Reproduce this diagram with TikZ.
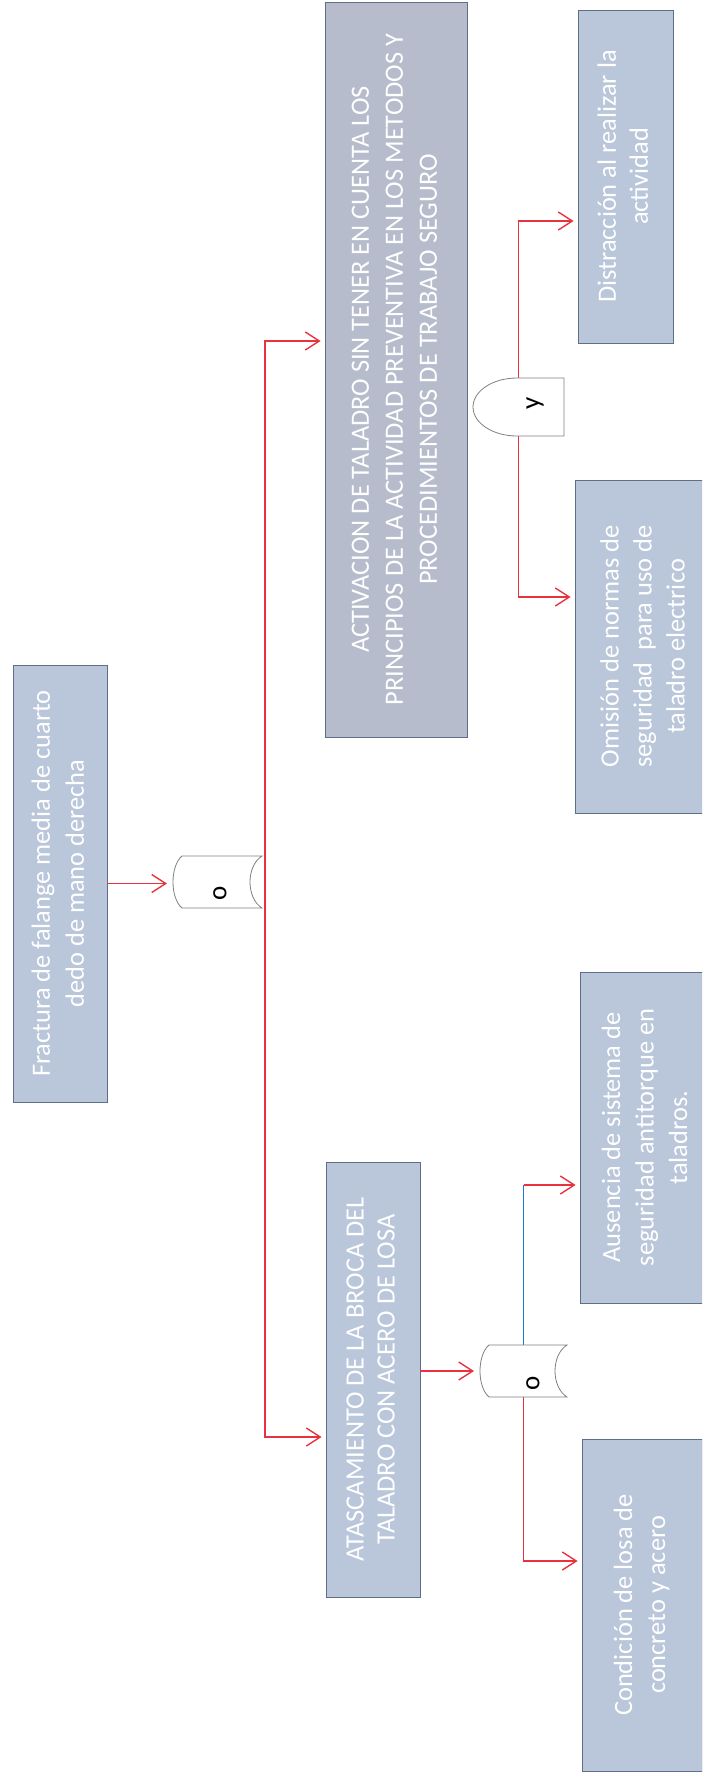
\documentclass[tikz,border=0pt]{standalone}
\usepackage{fontspec}
\setmainfont{Carlito}
\usepackage{graphicx}
\usetikzlibrary{arrows.meta,calc}
\definecolor{boxfill}{HTML}{BAC6DA}
\definecolor{boxfillb}{HTML}{B6BCCC}
\definecolor{boxline}{HTML}{5F6F88}
\definecolor{arrred}{HTML}{E8333F}
\definecolor{lineblue}{HTML}{2278D2}
\definecolor{gateline}{HTML}{808080}
\tikzset{
  box/.style={draw=boxline, line width=0.8pt, fill=boxfill, inner sep=0pt, text=white},
  conn/.style={draw=arrred, line width=1.4pt},
  arr/.style={conn, shorten >=4pt, -{Straight Barb[length=14pt,width=18pt,line width=1.4pt]}},
  gateshape/.style={draw=gateline, fill=white, line width=0.8pt},
  gatearea/.style={inner sep=0pt, outer sep=0pt},
  gatelabel/.style={rotate=90, inner sep=0pt, font=\fontsize{27}{27}\selectfont},
}
\newcommand{\rtext}[2][33]{\rotatebox{90}{\fontsize{26.4}{#1}\selectfont\begin{tabular}{@{}c@{}}#2\end{tabular}}}
\begin{document}
\begin{tikzpicture}[x=1pt,y=-1pt]
\useasboundingbox (0,0) rectangle (702,1774);
\clip (0,0) rectangle (702,1774);
\fill[white] (0,0) rectangle (702,1774);

% boxes
\node[box, minimum width=94pt, minimum height=437pt] (top) at (60,883.5)
  {\rtext[34]{Fractura de falange media de cuarto\\dedo de mano derecha}};
\node[box, fill=boxfillb, minimum width=142pt, minimum height=735pt] (act) at (396,369.5)
  {\rtext[34]{ACTIVACION DE TALADRO SIN TENER EN CUENTA LOS\\PRINCIPIOS DE LA ACTIVIDAD PREVENTIVA EN LOS METODOS Y\\PROCEDIMIENTOS DE TRABAJO SEGURO}};
\node[box, minimum width=94pt, minimum height=435pt] (atas) at (373,1379.5)
  {\rtext[31]{ATASCAMIENTO DE LA BROCA DEL\\TALADRO CON ACERO DE LOSA}};
\node[box, minimum width=95pt, minimum height=333pt] (dist) at (625.5,176.5)
  {\rtext[32]{Distracción al realizar la\\actividad}};
\node[box, minimum width=140pt, minimum height=333pt] (omis) at (645,646.5)
  {\rtext[33]{Omisión de normas de\\seguridad\ \ para uso de\\taladro electrico}};
\node[box, minimum width=134pt, minimum height=331pt] (aus) at (647,1137.5)
  {\rtext[33.5]{Ausencia de sistema de\\seguridad antitorque en\\taladros.}};
\node[box, minimum width=120pt, minimum height=332pt] (cond) at (642,1605)
  {\rtext[33]{Condición de losa de\\concreto y acero}};

% gate areas
\node[gatearea, minimum width=89pt, minimum height=52pt] (g1) at (217.5,882) {};
\node[gatearea, minimum width=87pt, minimum height=52pt] (g2) at (523.5,1371) {};
\node[gatearea, minimum width=91pt, minimum height=58pt] (gy) at (518.5,407) {};

% connectors
\draw[arr, shorten >=6pt] (top.east) -- (top.east -| g1.west);
\coordinate (bus) at ($(g1.east)+(3,0)$);
\draw[arr] (bus) |- ([yshift=28.5pt]act.west);
\draw[arr] (bus) |- ([yshift=-57.5pt]atas.west);
\draw[arr, shorten >=6pt] (atas.east |- g2.west) -- (g2.west);
\coordinate (ausin) at ([yshift=-47.5pt]aus.west);
\draw[lineblue, line width=1.4pt] (g2.north) -- (g2.north |- ausin);
\draw[arr] (g2.north |- ausin) -- (ausin);
\draw[arr] (g2.south) |- ([yshift=44pt]cond.west);
\draw[arr] (gy.center) |- ([yshift=-44.5pt]dist.west);
\draw[arr] (gy.center) |- ([yshift=49.5pt]omis.west);

% gate shapes
\draw[gateshape] (182,856) -- (262,856) .. controls (246,866) and (246,898) .. (262,908)
  -- (182,908) .. controls (170,898) and (170,866) .. cycle;
\draw[gateshape] (489,1345) -- (567,1345) .. controls (551,1355) and (551,1387) .. (567,1397)
  -- (489,1397) .. controls (477,1387) and (477,1355) .. cycle;
\draw[gateshape] (564,378) -- (517,378) .. controls (492.7,378) and (473,391) .. (473,407)
  .. controls (473,423) and (492.7,436) .. (517,436) -- (564,436) -- cycle;

% gate labels
\node[gatelabel] (g1t) at (220,893) {o};
\node[gatelabel] (g2t) at (533,1383) {o};
\node[gatelabel] (gyt) at (535,403) {y};
\end{tikzpicture}
\end{document}
